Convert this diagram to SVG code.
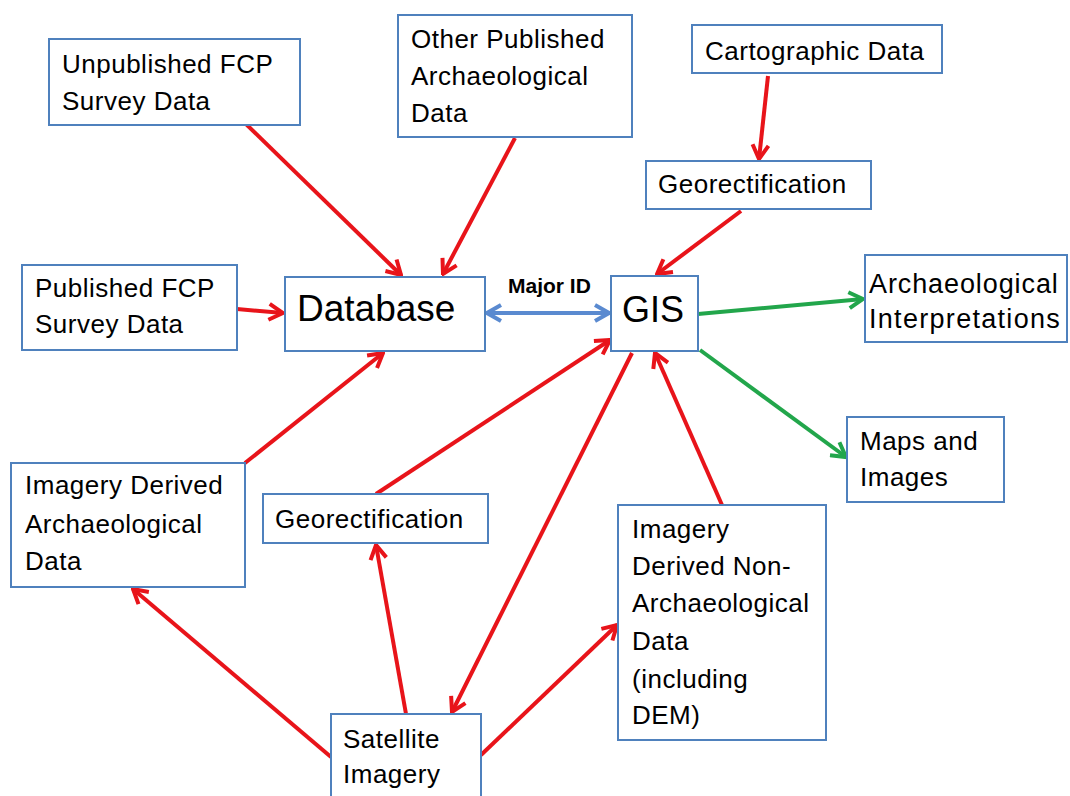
<svg xmlns="http://www.w3.org/2000/svg" width="1070" height="796" viewBox="0 0 1070 796">
<style>
.box{fill:#ffffff;stroke:#4f81bd;stroke-width:2}
.t{font-family:"Liberation Sans",Arial,sans-serif;font-size:26px;fill:#000;letter-spacing:0.5px}
.big{font-family:"Liberation Sans",Arial,sans-serif;font-size:37px;fill:#000}
.lbl{font-family:"Liberation Sans",Arial,sans-serif;font-size:21px;font-weight:bold;fill:#000}
.red{stroke:#e8141a;stroke-width:4;fill:none;marker-end:url(#mr)}
.grn{stroke:#22a64b;stroke-width:4;fill:none;marker-end:url(#mg)}
.blu{stroke:#5a8ad0;stroke-width:4;fill:none;marker-end:url(#mb);marker-start:url(#mb)}
</style>
<defs>
<marker id="mr" viewBox="0 0 20 20" refX="18" refY="10" markerWidth="20" markerHeight="20" markerUnits="userSpaceOnUse" orient="auto-start-reverse"><path d="M4,2 L18,10 L4,18" fill="none" stroke="#e8141a" stroke-width="4"/></marker>
<marker id="mg" viewBox="0 0 20 20" refX="18" refY="10" markerWidth="20" markerHeight="20" markerUnits="userSpaceOnUse" orient="auto-start-reverse"><path d="M4,2 L18,10 L4,18" fill="none" stroke="#22a64b" stroke-width="4"/></marker>
<marker id="mb" viewBox="0 0 20 20" refX="18" refY="10" markerWidth="20" markerHeight="20" markerUnits="userSpaceOnUse" orient="auto-start-reverse"><path d="M4,2 L18,10 L4,18" fill="none" stroke="#5a8ad0" stroke-width="4"/></marker>
</defs>
<rect width="1070" height="796" fill="#ffffff"/>
<g id="connectors">
<line class="red" x1="246" y1="124" x2="401" y2="275"/>
<line class="red" x1="515" y1="138" x2="443" y2="274"/>
<line class="red" x1="237" y1="309" x2="283" y2="313"/>
<line class="red" x1="245" y1="463" x2="383" y2="353"/>
<line class="red" x1="768" y1="76" x2="759" y2="159"/>
<line class="red" x1="741" y1="211" x2="657" y2="274"/>
<line class="red" x1="376" y1="494" x2="610" y2="340"/>
<line class="red" x1="632" y1="353" x2="452" y2="712"/>
<line class="red" x1="722" y1="505" x2="655" y2="353"/>
<line class="red" x1="331" y1="757" x2="133" y2="589"/>
<line class="red" x1="406" y1="714" x2="376" y2="545"/>
<line class="red" x1="481" y1="755" x2="617" y2="625"/>
<line class="grn" x1="698" y1="314" x2="863" y2="299"/>
<line class="grn" x1="700" y1="350" x2="846" y2="457"/>
<line class="blu" x1="487" y1="313" x2="609" y2="313"/>
<text class="lbl" x="508" y="293">Major ID</text>
</g>
<g id="unpublished"><rect class="box" x="49" y="39" width="251" height="86"/><text class="t" x="62" y="73">Unpublished FCP</text><text class="t" x="62" y="110">Survey Data</text></g>
<g id="otherpublished"><rect class="box" x="398" y="15" width="234" height="122"/><text class="t" x="411" y="48">Other Published</text><text class="t" x="411" y="85">Archaeological</text><text class="t" x="411" y="122">Data</text></g>
<g id="cartographic"><rect class="box" x="692" y="25" width="250" height="48"/><text class="t" x="705" y="60">Cartographic Data</text></g>
<g id="georect-top"><rect class="box" x="646" y="161" width="225" height="48"/><text class="t" x="658" y="193">Georectification</text></g>
<g id="publishedfcp"><rect class="box" x="22" y="265" width="215" height="85"/><text class="t" x="35" y="297">Published FCP</text><text class="t" x="35" y="333">Survey Data</text></g>
<g id="database"><rect class="box" x="285" y="277" width="200" height="74"/><text class="big" x="297" y="321">Database</text></g>
<g id="gis"><rect class="box" x="611" y="276" width="87" height="75"/><text class="big" x="622" y="322" style="font-size:36px">GIS</text></g>
<g id="archinterp"><rect class="box" x="865" y="255" width="202" height="87"/><text class="t" x="869" y="293" style="font-size:27px;letter-spacing:0.9px">Archaeological</text><text class="t" x="869" y="328" style="font-size:27px;letter-spacing:1.3px">Interpretations</text></g>
<g id="maps"><rect class="box" x="847" y="417" width="157" height="85"/><text class="t" x="860" y="450">Maps and</text><text class="t" x="860" y="486">Images</text></g>
<g id="imgarch"><rect class="box" x="11" y="463" width="234" height="124"/><text class="t" x="25" y="494">Imagery Derived</text><text class="t" x="25" y="533">Archaeological</text><text class="t" x="25" y="570">Data</text></g>
<g id="georect-bottom"><rect class="box" x="263" y="494" width="225" height="49"/><text class="t" x="275" y="528">Georectification</text></g>
<g id="nonarch"><rect class="box" x="618" y="505" width="208" height="235"/><text class="t" x="632" y="538">Imagery</text><text class="t" x="632" y="575">Derived Non-</text><text class="t" x="632" y="612">Archaeological</text><text class="t" x="632" y="650">Data</text><text class="t" x="632" y="688">(including</text><text class="t" x="632" y="724">DEM)</text></g>
<g id="satellite"><rect class="box" x="331" y="714" width="150" height="90"/><text class="t" x="343" y="748">Satellite</text><text class="t" x="343" y="783">Imagery</text></g>
</svg>
